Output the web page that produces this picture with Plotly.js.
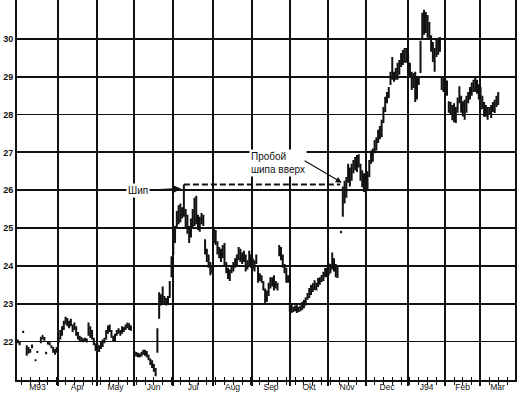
<!DOCTYPE html>
<html><head><meta charset="utf-8">
<script src="https://cdn.plot.ly/plotly-3.0.1.min.js"></script>
<style>html,body{margin:0;padding:0;background:#fff}#chart{width:517px;height:398px}</style>
</head><body><div id="chart"></div>
<script>
// Month labels and month edges (in trading-day units)
const monthLabels = ['M93','Apr','May','Jun','Jul','Aug','Sep','Okt','Nov','Dec','J94','Feb','Mar'];
const monthEdges = [-0.5, 22.7, 44.8, 65.8, 87.9, 110.5, 132.6, 154.1, 175.6, 197.2, 221, 241.9, 261.7, 281.5];
const yTicks = [22, 23, 24, 25, 26, 27, 28, 29, 30];

// Daily bars (one entry per trading day)
const high = [
  // Mar 93
  22.05,22.0,null,22.28,null,21.9,21.85,21.8,21.92,null,21.52,21.75,null,22.1,22.15,22.12,21.72,22.0,21.98,21.9,21.85,21.8,21.85,
  // Apr
  22.1,22.3,22.4,22.55,22.65,22.62,22.55,22.6,22.45,22.5,22.4,22.25,22.15,22.12,22.08,22.1,22.08,22.5,22.4,22.3,22.1,21.95,
  // May
  21.95,21.9,22.0,22.05,22.1,22.3,22.42,22.45,22.3,22.15,22.2,22.3,22.35,22.3,22.4,22.38,22.45,22.5,22.48,22.42,null,
  // Jun
  21.75,21.72,21.7,21.68,21.72,21.78,21.78,21.75,21.65,21.55,21.5,21.4,21.3,22.35,23.3,23.25,23.45,23.2,23.15,23.2,23.6,24.25,
  // Jul
  24.8,25.05,25.45,25.6,25.65,25.55,26.15,25.5,25.35,25.05,25.25,25.5,25.8,25.85,25.35,25.3,25.4,25.35,24.7,24.45,24.3,24.1,
  // Aug
  24.0,25.0,24.95,24.65,24.5,24.45,24.55,24.6,24.1,23.95,23.9,24.0,24.1,24.2,24.3,24.5,24.45,24.35,24.4,24.3,24.15,24.4,
  // Sep
  24.3,24.2,24.15,24.3,24.0,23.8,23.75,23.6,23.4,23.35,23.55,23.7,23.7,23.75,23.6,23.55,24.55,24.5,24.3,24.05,23.95,23.75,
  // Okt
  23.05,22.98,22.92,22.95,22.96,22.92,22.95,23.05,23.1,23.17,23.28,23.41,23.49,23.54,23.62,23.55,23.68,23.7,23.76,23.84,23.94,
  // Nov
  23.95,24.07,24.05,24.35,24.2,24.05,24.0,null,24.92,26.1,26.25,26.35,26.7,26.6,26.7,26.8,26.88,26.93,26.95,26.7,26.53,26.45,
  // Dec
  26.3,26.5,26.8,27.05,27.1,27.33,27.4,27.6,27.7,27.86,28.2,28.47,28.6,28.73,29.13,29.52,29.13,29.23,29.37,29.44,29.63,29.71,29.76,
  // J94
  29.76,29.58,29.37,29.13,29.1,29.13,29.0,29.0,29.95,30.69,30.77,30.71,30.63,30.45,30.1,29.92,29.76,29.97,30.03,30.05,29.0,
  // Feb
  29.0,28.95,28.9,28.35,28.33,28.25,28.3,28.2,28.45,28.75,28.5,28.35,28.39,28.5,28.6,28.73,28.85,28.92,28.97,28.92,
  // Mar
  28.8,28.73,28.5,28.33,28.25,28.2,28.2,28.25,28.33,28.39,28.5,28.6
];
const low = [
  21.95,21.9,null,22.22,null,21.62,21.68,21.7,21.82,null,21.48,21.7,null,21.95,22.05,22.02,21.66,21.92,21.9,21.82,21.7,21.65,21.7,
  21.95,22.05,22.15,22.3,22.45,22.4,22.35,22.4,22.25,22.3,22.15,22.05,22.0,22.0,21.98,22.0,21.98,22.15,22.1,22.05,21.9,21.75,
  21.75,21.72,21.8,21.85,21.95,22.05,22.2,22.25,22.1,22.0,22.0,22.15,22.2,22.15,22.2,22.25,22.3,22.35,22.3,22.28,null,
  21.62,21.6,21.58,21.58,21.6,21.65,21.62,21.58,21.5,21.38,21.3,21.2,21.08,21.7,22.6,22.95,23.0,23.0,22.95,23.0,23.15,23.7,
  24.3,24.6,25.0,25.1,25.15,25.25,25.3,25.0,24.85,24.6,24.75,25.0,25.05,25.1,24.95,24.9,25.1,25.05,24.3,24.1,23.95,23.75,
  23.8,24.6,24.55,24.3,24.2,24.1,24.2,24.0,23.8,23.65,23.6,23.8,23.85,23.95,24.0,24.15,24.1,24.05,24.1,23.85,23.9,24.0,
  23.95,23.9,23.85,24.05,23.55,23.6,23.55,23.35,23.0,23.05,23.2,23.4,23.45,23.35,23.4,23.35,24.25,24.15,23.95,23.8,23.55,23.55,
  22.78,22.75,22.78,22.8,22.75,22.78,22.8,22.83,22.88,22.95,23.1,23.15,23.23,23.31,23.36,23.35,23.44,23.5,23.57,23.6,23.7,
  23.7,23.75,23.8,23.9,23.85,23.7,23.68,null,24.86,25.3,25.65,25.8,26.2,26.1,26.25,26.45,26.53,26.48,26.6,26.25,26.08,25.95,
  25.93,26.0,26.35,26.7,26.75,26.98,27.05,27.25,27.35,27.4,27.78,28.07,28.3,28.44,28.78,28.92,28.87,28.92,28.92,29.05,29.26,29.31,29.37,
  29.37,29.13,28.99,28.65,28.7,28.33,28.4,28.78,29.1,29.97,30.11,30.16,30.03,29.97,29.66,29.39,29.13,29.52,29.58,29.66,28.65,
  28.6,28.55,28.5,28.05,27.99,27.85,27.8,27.78,28.05,28.3,28.05,27.95,27.86,28.05,28.3,28.4,28.5,28.6,28.6,28.55,
  28.4,28.12,28.15,27.94,27.94,27.86,27.99,27.91,28.07,28.04,28.2,28.25
];
const close = [
  22.0,21.95,null,22.25,null,21.7,21.7,21.75,21.85,null,21.5,21.72,null,22.1,22.15,22.05,21.7,21.95,21.92,21.85,21.75,21.7,21.8,
  22.05,22.25,22.3,22.5,22.6,22.45,22.5,22.45,22.3,22.35,22.2,22.1,22.05,22.05,22.02,22.05,22.0,22.4,22.2,22.1,22.0,21.85,
  21.8,21.85,21.95,22.0,22.05,22.25,22.35,22.3,22.15,22.05,22.15,22.25,22.3,22.2,22.35,22.3,22.4,22.45,22.35,22.35,null,
  21.7,21.65,21.62,21.6,21.7,21.75,21.7,21.6,21.55,21.45,21.35,21.25,21.15,22.3,23.1,23.1,23.1,23.05,23.05,23.1,23.5,24.1,
  24.7,24.9,25.3,25.4,25.5,25.4,25.5,25.1,25.0,24.75,25.1,25.2,25.15,25.25,25.1,25.2,25.3,25.15,24.4,24.2,24.0,23.9,
  23.9,24.85,24.7,24.4,24.3,24.2,24.45,24.1,23.9,23.75,23.8,23.9,24.0,24.1,24.2,24.4,24.2,24.25,24.3,23.95,24.05,24.1,
  24.1,24.0,23.95,24.15,23.7,23.7,23.6,23.45,23.1,23.2,23.45,23.6,23.55,23.45,23.5,23.45,24.45,24.2,24.05,23.9,23.7,23.6,
  22.85,22.8,22.85,22.85,22.8,22.85,22.9,22.95,23.0,23.1,23.2,23.35,23.4,23.45,23.55,23.5,23.6,23.65,23.7,23.75,23.85,
  23.85,24.0,23.9,24.2,23.95,23.9,23.8,null,24.9,25.9,26.0,26.2,26.6,26.3,26.5,26.6,26.7,26.6,26.8,26.4,26.2,26.1,
  26.2,26.4,26.7,26.9,27.0,27.2,27.3,27.5,27.6,27.75,28.1,28.35,28.5,28.65,29.0,29.0,28.95,29.1,29.2,29.3,29.5,29.6,29.6,
  29.5,29.3,29.1,28.8,28.9,28.5,28.8,28.9,29.85,30.5,30.3,30.4,30.2,30.1,29.8,29.5,29.4,29.8,29.9,29.7,28.8,
  28.8,28.7,28.6,28.2,28.1,28.0,27.9,28.1,28.3,28.6,28.2,28.1,28.0,28.3,28.5,28.6,28.7,28.8,28.85,28.7,
  28.5,28.2,28.3,28.0,28.1,27.95,28.1,28.05,28.2,28.3,28.35,28.5
];
const spikeIndex = 94;     // the "Шип" bar
const breakoutIndex = 183; // where the dashed level is broken

const ink = '#111';
const idx = high.map((_, i) => i);
const mids = monthLabels.map((_, i) => (monthEdges[i] + monthEdges[i + 1]) / 2);
const xRange = [monthEdges[0], monthEdges[monthEdges.length - 1]];

const traces = [
  {
    type: 'ohlc', x: idx, open: close, high: high, low: low, close: close,
    increasing: {line: {color: ink, width: 2}},
    decreasing: {line: {color: ink, width: 2}},
    tickwidth: 0.4, hoverinfo: 'skip', showlegend: false, xaxis: 'x', yaxis: 'y'
  },
  {
    type: 'scatter', mode: 'markers', x: mids, y: mids.map(() => null),
    xaxis: 'x2', yaxis: 'y', hoverinfo: 'skip', showlegend: false
  }
];

const layout = {
  width: 517, height: 398,
  margin: {l: 17, r: 2, t: 0, b: 18},
  paper_bgcolor: '#fff', plot_bgcolor: '#fff',
  showlegend: false,
  font: {family: 'Liberation Sans, Arial, sans-serif', color: ink},
  xaxis: {
    range: xRange, tickmode: 'array', tickvals: monthEdges.slice(1, -1),
    showticklabels: false, ticks: 'outside', ticklen: 4, tickwidth: 1.5, tickcolor: ink,
    showgrid: true, gridcolor: ink, gridwidth: 1.6,
    showline: true, linecolor: ink, linewidth: 2, zeroline: false,
    rangeslider: {visible: false}, fixedrange: true,
    minor: {dtick: 5, tick0: 2, ticks: 'outside', ticklen: 3, tickwidth: 1, tickcolor: ink, showgrid: false}
  },
  xaxis2: {
    overlaying: 'x', anchor: 'y', side: 'bottom', range: xRange,
    tickmode: 'array', tickvals: mids, ticktext: monthLabels, ticks: '',
    showgrid: false, showline: false, zeroline: false, fixedrange: true,
    tickfont: {size: 8.5, color: ink},
    minor: {dtick: 5, tick0: 2, ticks: 'inside', ticklen: 3, tickwidth: 1, tickcolor: ink, showgrid: false}
  },
  yaxis: {
    range: [20.98, 31.03], tickmode: 'array', tickvals: yTicks,
    showgrid: true, gridcolor: ink, gridwidth: 1.8,
    showline: true, linecolor: ink, linewidth: 2, mirror: true,
    ticks: '', zeroline: false, fixedrange: true,
    tickfont: {size: 9, weight: 'bold', color: ink}
  },
  shapes: [
    {type: 'line', xref: 'x', yref: 'y', x0: spikeIndex, x1: breakoutIndex - 0.5,
     y0: high[spikeIndex], y1: high[spikeIndex],
     line: {color: ink, width: 2, dash: '6px,3px'}}
  ],
  annotations: [
    {x: 68, y: 26.0, xref: 'x', yref: 'y', text: 'Шип', showarrow: false,
     bgcolor: '#fff', font: {size: 10, color: ink}},
    {x: 92.4, y: 26.04, ax: 76.5, ay: 26.0, axref: 'x', ayref: 'y', xref: 'x', yref: 'y',
     text: '', showarrow: true, arrowhead: 2, arrowsize: 1, arrowwidth: 1.6, arrowcolor: ink},
    {x: 130.9, y: 26.71, xref: 'x', yref: 'y', xanchor: 'left', align: 'left',
     text: 'Пробой<br>шипа вверх', showarrow: false, bgcolor: '#fff',
     font: {size: 10, color: ink}},
    {x: 183.4, y: 26.2, ax: 161.5, ay: 26.8, axref: 'x', ayref: 'y', xref: 'x', yref: 'y',
     text: '', showarrow: true, arrowhead: 2, arrowsize: 1, arrowwidth: 1.2, arrowcolor: ink}
  ]
};

Plotly.newPlot('chart', traces, layout, {staticPlot: true, displayModeBar: false});
</script>
</body></html>
